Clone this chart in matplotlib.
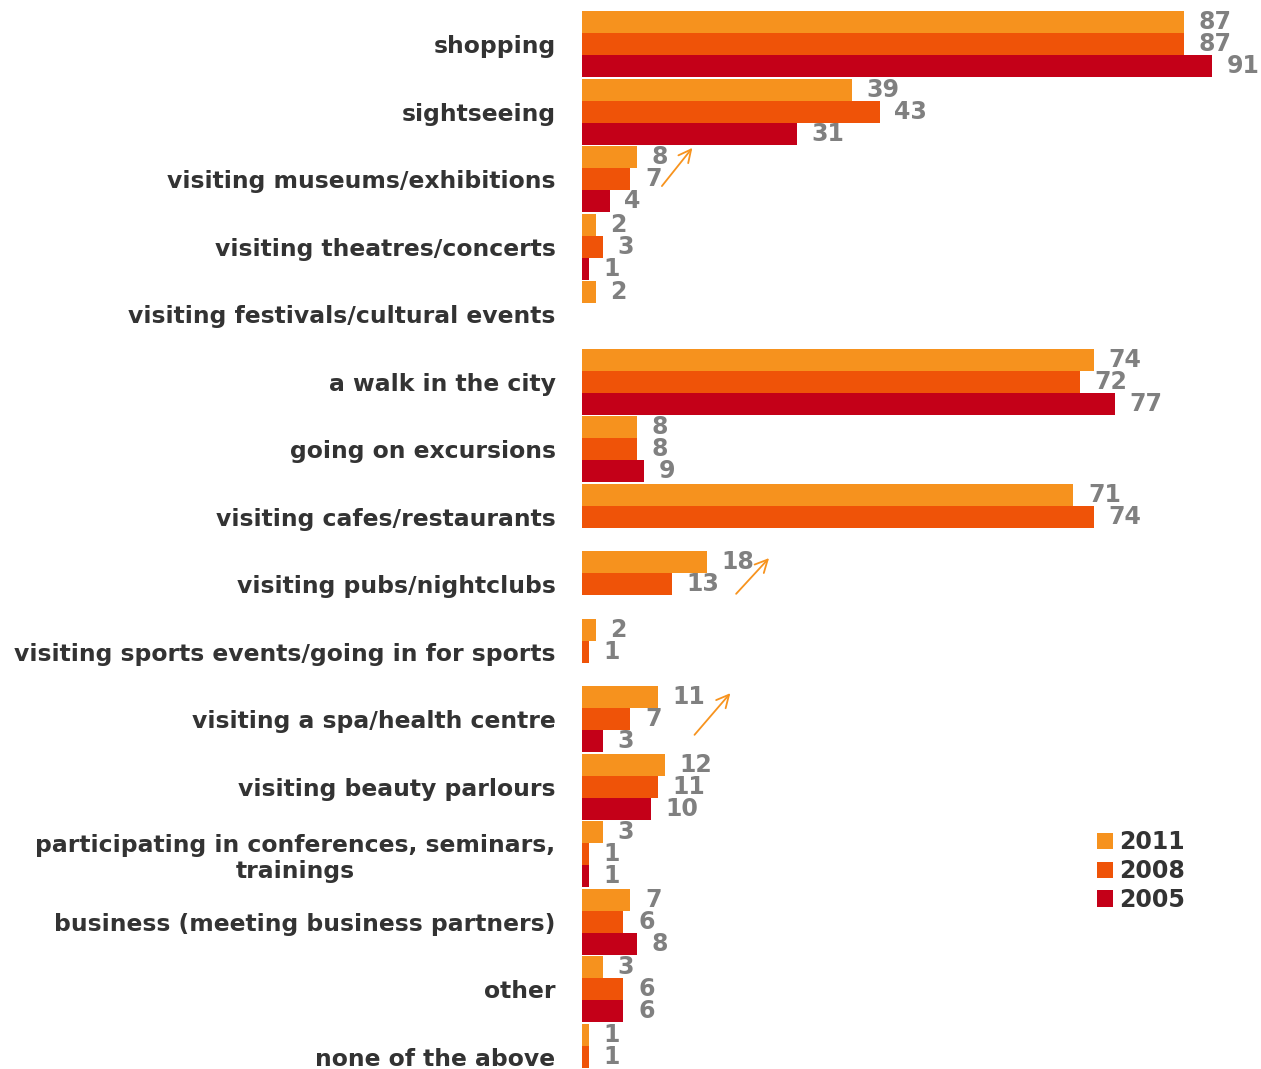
import matplotlib
matplotlib.use("Agg")
import matplotlib.pyplot as plt
from matplotlib.patches import Patch

categories = [
    "shopping",
    "sightseeing",
    "visiting museums/exhibitions",
    "visiting theatres/concerts",
    "visiting festivals/cultural events",
    "a walk in the city",
    "going on excursions",
    "visiting cafes/restaurants",
    "visiting pubs/nightclubs",
    "visiting sports events/going in for sports",
    "visiting a spa/health centre",
    "visiting beauty parlours",
    "participating in conferences, seminars,\ntrainings",
    "business (meeting business partners)",
    "other",
    "none of the above",
]
years = ["2011", "2008", "2005"]
v2011 = [87, 39, 8, 2, 2, 74, 8, 71, 18, 2, 11, 12, 3, 7, 3, 1]
v2008 = [87, 43, 7, 3, None, 72, 8, 74, 13, 1, 7, 11, 1, 6, 6, 1]
v2005 = [91, 31, 4, 1, None, 77, 9, None, None, None, 3, 10, 1, 8, 6, None]

# growth arrows: (category index, x start, y offset start, x end, y offset end)
arrows = [
    (2, 11.3, 0.13, 16.2, -0.50),
    (8, 22.0, 0.17, 27.3, -0.42),
    (10, 16.0, 0.26, 21.7, -0.42),
]

COLORS = ["#f6921e", "#ef5308", "#c40018"]
LABEL_GRAY = "#808080"
TEXT = "#333333"
FONT = "DejaVu Sans"

fig = plt.figure(figsize=(12.61, 10.69), dpi=100)
ax = fig.add_axes([0.4615, 0.0, 0.5385, 1.0])

bar_h = 0.326
offsets = [-bar_h, 0.0, bar_h]
for series, color, off, year in zip([v2011, v2008, v2005], COLORS, offsets, years):
    ys = [i + off for i, v in enumerate(series) if v is not None]
    xs = [v for v in series if v is not None]
    ax.barh(ys, xs, height=bar_h, color=color, linewidth=0, label=year)
    for y, x in zip(ys, xs):
        ax.text(x + 2.1, y, str(x), ha="left", va="center", fontsize=17,
                fontweight="bold", color=LABEL_GRAY, family=FONT)

for i, x0, dy0, x1, dy1 in arrows:
    ax.annotate("", xy=(x1, i + dy1), xytext=(x0, i + dy0),
                arrowprops=dict(arrowstyle="->,head_length=0.9,head_width=0.45",
                                color="#f7931e", lw=1.3))

ax.set_xlim(0, 98.1)
ax.set_ylim(15.18, -0.659)
ax.set_yticks(range(len(categories)))
ax.set_yticklabels(categories, fontsize=16.9, fontweight="bold", color=TEXT, family=FONT)
for lbl in ax.get_yticklabels():
    lbl.set_multialignment("center")
ax.tick_params(axis="y", length=0, pad=19)
ax.set_xticks([])
for side in ax.spines.values():
    side.set_visible(False)

handles = [Patch(facecolor=c, edgecolor="none") for c in COLORS]
fig.legend(handles, years, loc="upper left", bbox_to_anchor=(0.853, 0.243),
           frameon=False, handlelength=0.7, handleheight=0.7, handletextpad=0.25,
           labelspacing=0.2, prop={"family": FONT, "size": 17, "weight": "bold"},
           labelcolor=TEXT)

fig.savefig("out.png", dpi=100, facecolor="white")
